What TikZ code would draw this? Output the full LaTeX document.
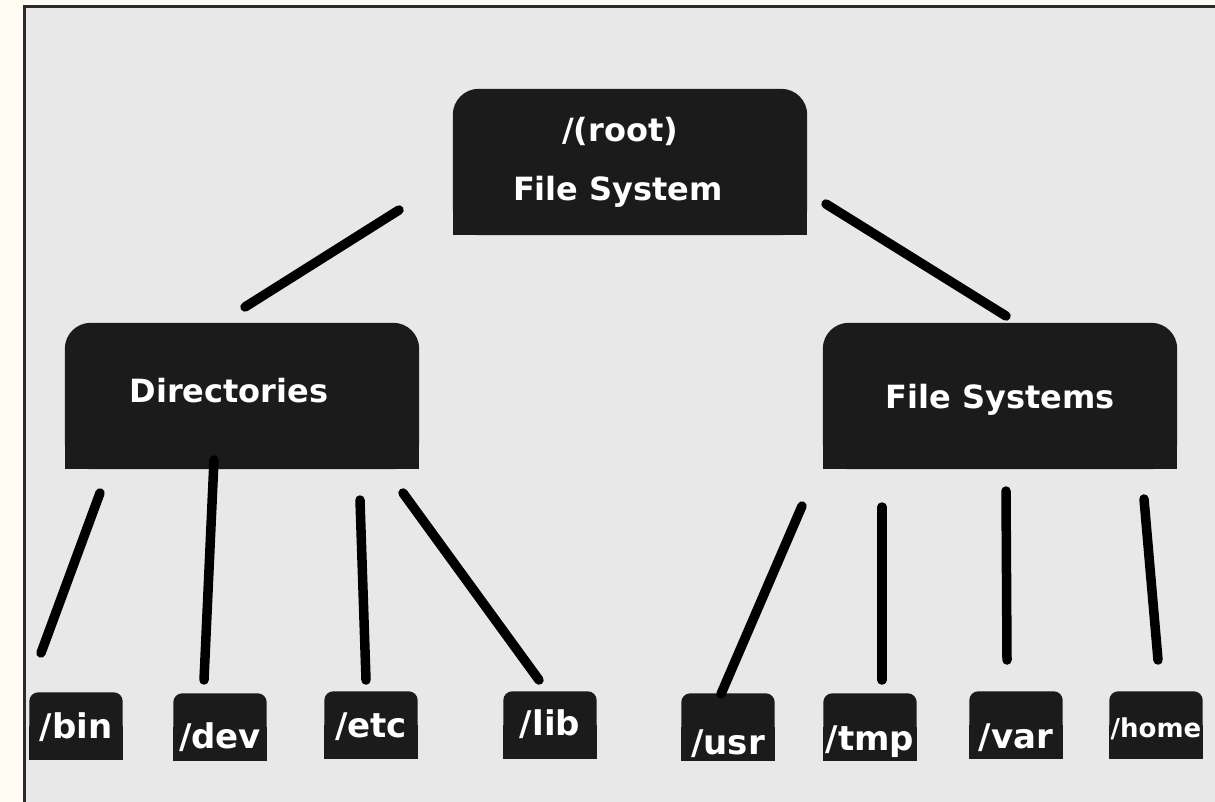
\documentclass[tikz,border=0pt]{standalone}
\usepackage{fontspec}
\setmainfont{DejaVu Sans}
\usetikzlibrary{backgrounds}

\definecolor{paper}{HTML}{FFFCF4}
\definecolor{panel}{HTML}{E8E8E8}
\definecolor{boxfill}{HTML}{1A1B1A}
\definecolor{framecol}{HTML}{2A2A2A}

\tikzset{
    box/.style={minimum width=354pt, minimum height=146pt, inner sep=0pt, text=white,
        font=\fontsize{32}{59}\selectfont\bfseries},
    rootbox/.style={box, align=center},
    bigbox/.style={box, text height=#1, text depth=7pt},
    bigbox/.default=24pt,
    smallbox/.style={minimum width=93pt, minimum height=67pt, inner sep=0pt, text=white,
        font=\fontsize{34}{40}\selectfont\bfseries, text height=#1, text depth=0pt},
    smallbox/.default=24pt,
    branch/.style={line width=9.5pt, line cap=round}
}

\begin{document}
\begin{tikzpicture}[x=1pt,y=-1pt]
                    \useasboundingbox (0,0) rectangle (1215,802);

                    \node [rootbox] (Root) at (630,162) {/(root)\hspace*{20pt}\\File System\hspace*{24pt}};
                    \node [bigbox=19pt] (Dirs) at (242,396) {\hspace*{-26pt}Directories};
                    \node [bigbox=31pt] (FSs) at (1000,396) {File Systems};

                    \node [smallbox=24pt] (Bin) at (76,726) {/bin};
                    \node [smallbox=42pt] (Dev) at (220,727) {/dev};
                    \node [smallbox=24pt] (Etc) at (371,725) {/etc};
                    \node [smallbox=20pt] (Lib) at (550,725) {/lib};
                    \node [smallbox=54pt] (Usr) at (728,727) {/usr};
                    \node [smallbox=46pt] (Tmp) at (870,727) {/tmp};
                    \node [smallbox=46pt] (Var) at (1016,725) {/var};
                    \node [smallbox=24pt, font=\fontsize{26}{30}\selectfont\bfseries] (Home) at (1156,725) {/home};

                    \coordinate (RootL) at (399,210);
                    \coordinate (DirsU) at (245,307);
                    \coordinate (RootR) at (826,204);
                    \coordinate (FSsU) at (1006,316);

                    \coordinate (DirsBin) at (100,493);
                    \coordinate (BinU) at (41,653);
                    \coordinate (DirsDev) at (214,460);
                    \coordinate (DevU) at (204,680);
                    \coordinate (DirsEtc) at (360,500);
                    \coordinate (EtcU) at (366,680);
                    \coordinate (DirsLib) at (403,493);
                    \coordinate (LibU) at (539,680);

                    \coordinate (FSsUsr) at (802,506);
                    \coordinate (UsrU) at (721,694);
                    \coordinate (FSsTmp) at (882,507);
                    \coordinate (TmpU) at (882,680);
                    \coordinate (FSsVar) at (1006,491);
                    \coordinate (VarU) at (1007,660);
                    \coordinate (FSsHome) at (1144,499);
                    \coordinate (HomeU) at (1158,660);

                    \draw[branch] (RootL) -- (DirsU);
                    \draw[branch] (RootR) -- (FSsU);

                    \draw[branch] (DirsBin) -- (BinU);
                    \draw[branch] (DirsDev) -- (DevU);
                    \draw[branch] (DirsEtc) -- (EtcU);
                    \draw[branch] (DirsLib) -- (LibU);

                    \draw[branch] (FSsUsr) -- (UsrU);
                    \draw[branch] (FSsTmp) -- (TmpU);
                    \draw[branch] (FSsVar) -- (VarU);
                    \draw[branch] (FSsHome) -- (HomeU);

                    % panel and box shapes (top corners rounded only)
                    \begin{scope}[on background layer]
                        \fill[paper] (0,0) rectangle (1215,802);
                        \fill[panel] (23,5) rectangle (1215,802);
                        \draw[framecol, line width=3pt] (24.5,802) |- (1215,6.5);
                        \foreach \n/\r in {Root/26,Dirs/26,FSs/26,Bin/9,Dev/9,Etc/9,Lib/9,Usr/9,Tmp/9,Var/9,Home/9} {
                            \fill[boxfill, rounded corners=\r pt] (\n.south west) rectangle (\n.north east);
                            \fill[boxfill] (\n.south west) rectangle (\n.east);
                        }
                    \end{scope}

                \end{tikzpicture}
\end{document}
